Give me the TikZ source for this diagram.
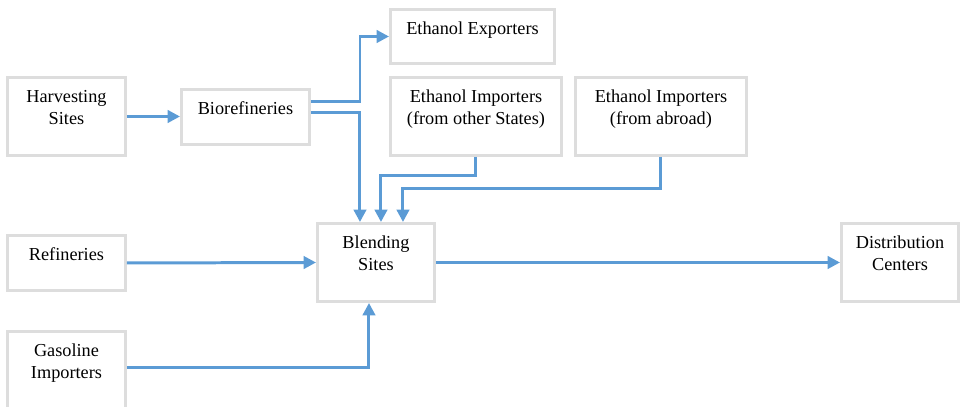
\documentclass[tikz,border=0pt]{standalone}
\usepackage{fontspec}
\setmainfont{Liberation Serif}
\usetikzlibrary{arrows.meta,calc}
\definecolor{cinza}{RGB}{221,221,221}
\definecolor{azul}{RGB}{91,155,213}

\begin{document}
\begin{tikzpicture}[x=0.02cm, y=-0.02cm,
    caixa/.style={draw=cinza, line width=1.7pt, inner sep=0pt, anchor=north west,
        align=center, text height=0.5cm, font=\fontsize{10.4}{12.6}\selectfont},
    alta/.style={caixa, minimum width=#1, text height=0.5cm+12.6pt, text depth=1.06cm-12.6pt},
    baixa/.style={caixa, minimum width=#1, text depth=0.6cm},
    fluxo/.style={draw=azul, line width=1.7pt, -{Triangle[length=7pt,width=7pt]}}]
    \useasboundingbox (0,0) rectangle (960,406);
    % Caixas da esquerda
    \node[alta=2.36cm] (harv) at (6,76) {Harvesting\\Sites};
    \node[baixa=2.36cm] (ref) at (6,234) {Refineries};
    \node[alta=2.36cm] (gas) at (6,330) {Gasoline\\Importers};
    % Caixas do meio
    \node[baixa=2.56cm] (bio) at (180,88) {Biorefineries};
    \node[caixa, minimum width=3.28cm, text depth=0.58cm] (exp) at (389,8) {Ethanol Exporters};
    \node[alta=3.42cm] (imp1) at (389,76) {Ethanol Importers\\(from other States)};
    \node[alta=3.42cm] (imp2) at (574,76) {Ethanol Importers\\(from abroad)};
    \node[alta=2.34cm] (blend) at (316,222) {Blending\\Sites};
    % Caixa da direita
    \node[alta=2.34cm] (dist) at (840,222) {Distribution\\Centers};
    % Fluxos
    \draw[fluxo] (harv.east) -- (harv.east -| bio.west);
    \draw[fluxo] ($(bio.east)+(0,-15)$) -| ($(exp.west)+(-29,0)$) -- (exp.west);
    \draw[fluxo] ($(bio.east)+(0,-4)$) -| ($(blend.north)+(-16,0)$);
    \draw[fluxo] (imp1.south) -- ++(0,19) -| ($(blend.north)+(5,0)$);
    \draw[fluxo] (imp2.south) -- ++(0,32) -| ($(blend.north)+(27,0)$);
    \draw[fluxo] (ref.east) -- (blend.west);
    \draw[fluxo] ($(gas.east)+(0,-3)$) -| ($(blend.south)+(-7,0)$);
    \draw[fluxo] (blend.east) -- (dist.west);
\end{tikzpicture}
\end{document}
